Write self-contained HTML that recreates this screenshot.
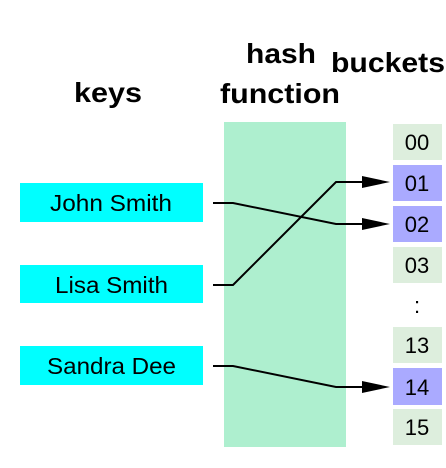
<!DOCTYPE html>
<html><head><style>body{margin:0;background:#fff}svg{display:block}</style></head>
<body>
<svg width="446" height="468" viewBox="0 0 446 468" font-family="Liberation Sans, sans-serif">
<g font-weight="bold" font-size="28" fill="#000" lengthAdjust="spacingAndGlyphs">
<text x="74" y="102" textLength="68" lengthAdjust="spacingAndGlyphs">keys</text>
<text x="246" y="63" textLength="70" lengthAdjust="spacingAndGlyphs">hash</text>
<text x="220" y="103" textLength="120" lengthAdjust="spacingAndGlyphs">function</text>
<text x="331" y="72" textLength="114" lengthAdjust="spacingAndGlyphs">buckets</text>
</g>
<rect x="224" y="122" width="122" height="325" fill="#aeefcf"/>
<g font-size="23">
<rect x="20" y="183" width="183" height="39" fill="#00ffff"/>
<text x="50" y="211" textLength="122" lengthAdjust="spacingAndGlyphs">John Smith</text>
<rect x="20" y="265" width="183" height="38" fill="#00ffff"/>
<text x="55" y="293" textLength="113" lengthAdjust="spacingAndGlyphs">Lisa Smith</text>
<rect x="20" y="346" width="183" height="39" fill="#00ffff"/>
<text x="47" y="374" textLength="129" lengthAdjust="spacingAndGlyphs">Sandra Dee</text>
</g>
<g font-size="22" text-anchor="middle">
<rect x="393" y="124" width="49" height="36" fill="#ddeedd"/><text x="417" y="150">00</text>
<rect x="393" y="165" width="49" height="36" fill="#aaaaff"/><text x="417" y="191">01</text>
<rect x="393" y="206" width="49" height="36" fill="#aaaaff"/><text x="417" y="232">02</text>
<rect x="393" y="247" width="49" height="36" fill="#ddeedd"/><text x="417" y="273">03</text>
<text x="417" y="313">:</text>
<rect x="393" y="327" width="49" height="36" fill="#ddeedd"/><text x="417" y="353">13</text>
<rect x="393" y="368" width="49" height="37" fill="#aaaaff"/><text x="417" y="395">14</text>
<rect x="393" y="409" width="49" height="36" fill="#ddeedd"/><text x="417" y="435">15</text>
</g>
<g fill="none" stroke="#000" stroke-width="2">
<polyline points="213,203 233,203 336,224 362,224"/>
<polyline points="213,285 233,285 336,182 362,182"/>
<polyline points="213,366 233,366 336,387 362,387"/>
</g>
<g fill="#000">
<path d="M362,176 L390,182 L362,188 z"/>
<path d="M362,218 L390,224 L362,230 z"/>
<path d="M362,381 L390,387 L362,393 z"/>
</g>
</svg>
</body></html>
